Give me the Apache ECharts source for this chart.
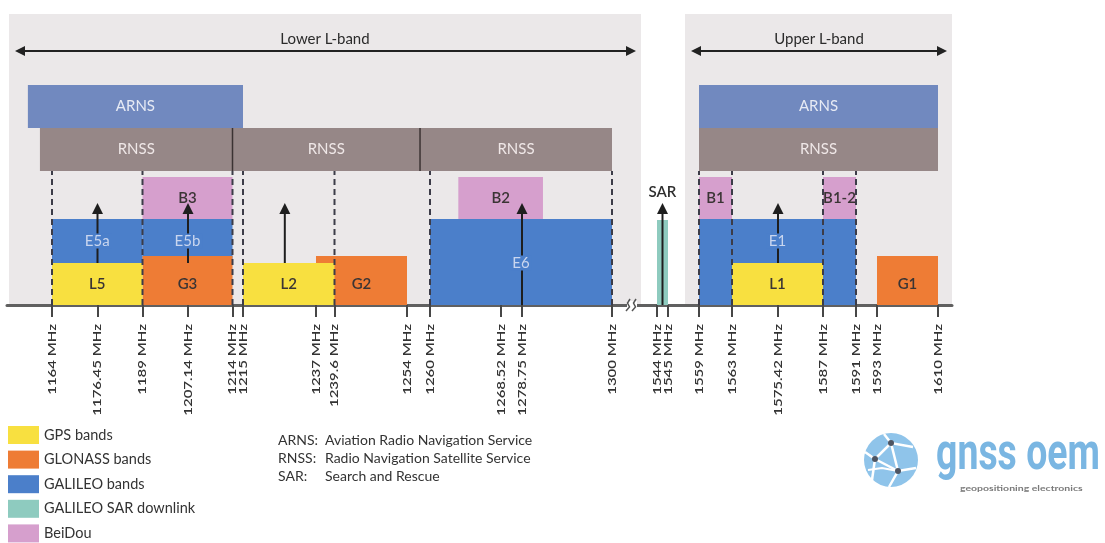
<!DOCTYPE html>
<html>
<head>
<meta charset="utf-8">
<script src="https://cdn.jsdelivr.net/npm/echarts@6.0.0/dist/echarts.min.js"></script>
<style>
html,body{margin:0;padding:0;background:#ffffff;}
#chart{width:1105px;height:543px;}
</style>
</head>
<body>
<div id="chart"></div>
<script>
// ================= DATA =================
const tickFreqs = [1164, 1176.45, 1189, 1207.14, 1214, 1215, 1237, 1239.6, 1254, 1260, 1268.52, 1278.75, 1300,
                   1544, 1545, 1559, 1563, 1575.42, 1587, 1591, 1593, 1610];

const serviceNames = ['ARNS', 'RNSS', 'RNSS', 'RNSS', 'ARNS', 'RNSS'];
const serviceStart = [1157.4, 1160.7, 1214, 1257.4, 1559, 1559];
const serviceEnd   = [1215, 1214, 1257.4, 1300, 1610, 1610];

const systemNames = ['GPS bands', 'GLONASS bands', 'GALILEO bands', 'GALILEO SAR downlink', 'BeiDou'];

const bandNames  = ['L5', 'L2', 'L1', 'G3', 'G2', 'G1', 'E5a', 'E5b', 'E6', 'E1', 'SAR', 'B3', 'B2', 'B1', 'B1-2'];
const bandSystem = [0, 0, 0, 1, 1, 1, 2, 2, 2, 2, 3, 4, 4, 4, 4];
const bandStart  = [1164, 1215, 1563, 1189, 1237, 1593, 1164, 1189, 1260, 1559, 1544, 1189, 1263.4, 1559, 1587];
const bandEnd    = [1189, 1239.6, 1587, 1214, 1254, 1610, 1189, 1214, 1300, 1591, 1545, 1214, 1283.7, 1563, 1591];
const bandRow    = ['base', 'base', 'base', 'glo', 'glo', 'glo', 'mid', 'mid', 'full', 'full', 'sar', 'top', 'top', 'top', 'top'];
const bandLabelRow = ['base', 'base', 'base', 'base', 'base', 'base', 'mid', 'mid', 'full', 'mid', 'note', 'top', 'top', 'top', 'top'];

const carrierFreqs = [1176.45, 1207.14, 1227.6, 1278.75, 1544.5, 1575.42];
const carrierFrom  = ['base', 'base', 'base', 'axis', 'axis', 'base'];

const edgeFreqs = [1164, 1189, 1214, 1215, 1239.6, 1260, 1300, 1559, 1563, 1587, 1591];

const regionNames = ['Lower L-band', 'Upper L-band'];

const abbrevs = ['ARNS:', 'RNSS:', 'SAR:'];
const abbrevMeanings = ['Aviation Radio Navigation Service', 'Radio Navigation Satellite Service', 'Search and Rescue'];

// ================= LAYOUT / STYLE =================
// The diagram is not to scale: each labelled frequency has a slot on the schematic axis.
const SCHEMATIC_X = [52, 97.5, 142.5, 188, 232.5, 243, 316, 334.5, 407, 430, 501, 522, 612,
                     657, 668, 699, 732, 778, 823, 856, 877, 938];
function pos(f) {
  const F = tickFreqs, X = SCHEMATIC_X, n = F.length;
  let k = 0;
  if (f <= F[0]) k = 0;
  else if (f >= F[n - 1]) k = n - 2;
  else { while (k < n - 2 && f > F[k + 1]) k++; }
  return X[k] + (f - F[k]) * (X[k + 1] - X[k]) / (F[k + 1] - F[k]);
}
const ROW = { base: [0, 42], glo: [0, 49], mid: [42, 86], full: [0, 86], sar: [0, 85], top: [86, 128],
              RNSS: [134, 177], ARNS: [177, 220] };
const LABEL_Y = { base: 21, mid: 64, full: 42, top: 107, note: 113 };
const FROM_Y = { base: 42, axis: 0 };
const ARROW_TIP = 102, ARROW_HEAD = 11, EDGE_TOP = 134;

const SYSTEM_COLORS = ['#f8e040', '#ee7c35', '#4b7fca', '#8ecbbf', '#d69fcd'];
const SYSTEM_Z = [4, 3, 2, 4, 4];
const LABEL_FILL = ['#3a3434', '#3a3434', '#c9d6ef', '#2e2e2e', '#3a3434'];
const SERVICE_COLORS = { ARNS: '#7189bf', RNSS: '#968787' };
const SERVICE_TEXT = { ARNS: '#e6eaf4', RNSS: '#efe7e7' };
const PANEL = '#ebe8e9';
const FONT = 'Lato, "Liberation Sans", sans-serif';

const tickPositions = tickFreqs.map(pos);

// ================= RENDERERS =================
function rectItem(params, api) {
  const a = api.coord([api.value(0), api.value(3)]);
  const b = api.coord([api.value(1), api.value(2)]);
  return { type: 'rect', shape: { x: a[0], y: a[1], width: b[0] - a[0], height: b[1] - a[1] },
           style: { fill: api.visual('color') } };
}

function serviceItem(params, api) {
  const i = api.value(4);
  const name = serviceNames[i];
  const a = api.coord([api.value(0), api.value(3)]);
  const b = api.coord([api.value(1), api.value(2)]);
  const children = [
    { type: 'rect', shape: { x: a[0], y: a[1], width: b[0] - a[0], height: b[1] - a[1] },
      style: { fill: SERVICE_COLORS[name] } },
    { type: 'text', x: (a[0] + b[0]) / 2, y: (a[1] + b[1]) / 2,
      style: { text: name, font: '15px ' + FONT, fill: SERVICE_TEXT[name], align: 'center', verticalAlign: 'middle' } }
  ];
  const joined = serviceNames.some((m, j) => j !== i && m === name && serviceEnd[j] === serviceStart[i]);
  if (joined) {
    children.push({ type: 'line', shape: { x1: a[0], y1: a[1], x2: a[0], y2: b[1] },
                    style: { stroke: '#3b3333', lineWidth: 1.5 } });
  }
  return { type: 'group', children };
}

function edgeItem(params, api) {
  const a = api.coord([api.value(0), api.value(1)]);
  const b = api.coord([api.value(0), api.value(2)]);
  return { type: 'line', shape: { x1: a[0], y1: a[1], x2: b[0], y2: b[1] },
           style: { stroke: '#3c3c48', lineWidth: 2, lineDash: [6, 4] } };
}

function arrowItem(params, api) {
  const p0 = api.coord([api.value(0), api.value(1)]);
  const pt = api.coord([api.value(0), api.value(2)]);
  return { type: 'group', children: [
    { type: 'line', shape: { x1: p0[0], y1: p0[1], x2: pt[0], y2: pt[1] + ARROW_HEAD - 1 },
      style: { stroke: '#1e1e1e', lineWidth: 2 } },
    { type: 'polygon', shape: { points: [[pt[0], pt[1]], [pt[0] - 5.5, pt[1] + ARROW_HEAD], [pt[0] + 5.5, pt[1] + ARROW_HEAD]] },
      style: { fill: '#1e1e1e' } }
  ] };
}

function labelItem(params, api) {
  const i = api.value(2);
  const s = bandSystem[i];
  const p = api.coord([api.value(0), api.value(1)]);
  return { type: 'text', x: p[0], y: p[1],
           style: { text: bandNames[i], font: (s === 2 ? '' : '600 ') + '15px ' + FONT, fill: LABEL_FILL[s], align: 'center', verticalAlign: 'middle',
                    backgroundColor: s === 2 ? SYSTEM_COLORS[2] : 'transparent', padding: [0, 2] } };
}

// frequency tick labels, vertical text reading upwards, ending just below the axis
function tickLabelItem(params, api) {
  const i = api.value(2);
  const p = api.coord([api.value(0), api.value(1)]);
  return { type: 'text', x: p[0], y: p[1] + 19, rotation: Math.PI / 2, scaleY: 0.8,
           style: { text: tickFreqs[i] + ' MHz', font: '600 15px ' + FONT, fill: '#333333', align: 'right', verticalAlign: 'middle' } };
}

// ================= SERIES =================
const series = [];
series.push({
  type: 'custom', name: 'services', z: 1, silent: true,
  encode: { x: [0, 1], y: [2, 3] },
  data: serviceNames.map((n, i) => [pos(serviceStart[i]), pos(serviceEnd[i]), ROW[n][0], ROW[n][1], i]),
  renderItem: serviceItem
});
systemNames.forEach((name, s) => {
  const idx = bandNames.map((_, i) => i).filter(i => bandSystem[i] === s);
  series.push({
    type: 'custom', name, z: SYSTEM_Z[s], silent: true,
    itemStyle: { color: SYSTEM_COLORS[s] },
    encode: { x: [0, 1], y: [2, 3] },
    data: idx.map(i => [pos(bandStart[i]), pos(bandEnd[i]), ROW[bandRow[i]][0], ROW[bandRow[i]][1]]),
    renderItem: rectItem
  });
});
series.push({
  type: 'custom', name: 'edges', z: 5, silent: true,
  encode: { x: 0, y: [1, 2] },
  data: edgeFreqs.map(f => [pos(f), 0, EDGE_TOP]),
  renderItem: edgeItem
});
series.push({
  type: 'custom', name: 'carriers', z: 6, silent: true,
  encode: { x: 0, y: [1, 2] },
  data: carrierFreqs.map((f, i) => [pos(f), FROM_Y[carrierFrom[i]], ARROW_TIP]),
  renderItem: arrowItem
});
series.push({
  type: 'custom', name: 'labels', z: 7, silent: true,
  encode: { x: 0, y: 1 },
  data: bandNames.map((n, i) => [(pos(bandStart[i]) + pos(bandEnd[i])) / 2, LABEL_Y[bandLabelRow[i]], i]),
  renderItem: labelItem
});
series.push({
  type: 'custom', name: 'tickLabels', z: 7, silent: true, clip: false,
  encode: { x: 0, y: 1 },
  data: tickFreqs.map((f, i) => [pos(f), 0, i]),
  renderItem: tickLabelItem
});

// ================= DECORATION =================
function headerArrow(x1, x2, y) {
  return [
    { type: 'line', z: 1, shape: { x1: x1 + 6, y1: y, x2: x2 - 6, y2: y }, style: { stroke: '#222', lineWidth: 2 } },
    { type: 'polygon', z: 1, shape: { points: [[x1, y], [x1 + 10, y - 5], [x1 + 10, y + 5]] }, style: { fill: '#222' } },
    { type: 'polygon', z: 1, shape: { points: [[x2, y], [x2 - 10, y - 5], [x2 - 10, y + 5]] }, style: { fill: '#222' } }
  ];
}

const graphic = [
  { type: 'rect', z: -10, shape: { x: 9, y: 14, width: 632, height: 291 }, style: { fill: PANEL } },
  { type: 'rect', z: -10, shape: { x: 685, y: 14, width: 267, height: 291 }, style: { fill: PANEL } },
  ...headerArrow(15, 636, 51),
  ...headerArrow(691, 947, 51),
  { type: 'text', z: 1, x: 325, y: 39, style: { text: regionNames[0], font: '15px ' + FONT, fill: '#2b2b2b', align: 'center', verticalAlign: 'middle' } },
  { type: 'text', z: 1, x: 819, y: 39, style: { text: regionNames[1], font: '15px ' + FONT, fill: '#2b2b2b', align: 'center', verticalAlign: 'middle' } },
  // axis break mark
  { type: 'rect', z: 20, shape: { x: 627, y: 301, width: 10, height: 8 }, style: { fill: '#ffffff' } },
  { type: 'polyline', z: 21, shape: { points: [[626, 311], [629.5, 307], [627.5, 303], [630, 299]] }, style: { stroke: '#555', lineWidth: 1.5, fill: null } },
  { type: 'polyline', z: 21, shape: { points: [[632, 311], [635.5, 307], [633.5, 303], [636, 299]] }, style: { stroke: '#555', lineWidth: 1.5, fill: null } }
];

abbrevs.forEach((a, i) => {
  graphic.push({ type: 'text', x: 278, y: 440 + i * 18, style: { text: a, font: '14px ' + FONT, fill: '#333333', verticalAlign: 'middle' } });
  graphic.push({ type: 'text', x: 325, y: 440 + i * 18, style: { text: abbrevMeanings[i], font: '14px ' + FONT, fill: '#333333', verticalAlign: 'middle' } });
});

// logo
graphic.push({ type: 'group', children: [
  { type: 'circle', shape: { cx: 891, cy: 460, r: 27 }, style: { fill: '#8fc4ea' } },
  { type: 'polyline', shape: { points: [[865, 452], [875, 459], [891, 443], [913, 447]] }, style: { stroke: '#ffffff', lineWidth: 2.5, fill: null } },
  { type: 'polyline', shape: { points: [[875, 459], [898, 471], [916, 468]] }, style: { stroke: '#ffffff', lineWidth: 2.5, fill: null } },
  { type: 'polyline', shape: { points: [[891, 443], [898, 471], [889, 487]] }, style: { stroke: '#ffffff', lineWidth: 2.5, fill: null } },
  { type: 'polyline', shape: { points: [[875, 459], [872, 480]] }, style: { stroke: '#ffffff', lineWidth: 2.5, fill: null } },
  { type: 'polyline', shape: { points: [[884, 434], [891, 443]] }, style: { stroke: '#ffffff', lineWidth: 2.5, fill: null } },
  { type: 'polyline', shape: { points: [[868, 470], [882, 468], [898, 471]] }, style: { stroke: '#ffffff', lineWidth: 2, fill: null } },
  { type: 'circle', shape: { cx: 891, cy: 443, r: 3 }, style: { fill: '#4e5562' } },
  { type: 'circle', shape: { cx: 875, cy: 459, r: 3 }, style: { fill: '#4e5562' } },
  { type: 'circle', shape: { cx: 898, cy: 471, r: 3 }, style: { fill: '#4e5562' } },
  { type: 'text', x: 936, y: 456, scaleX: 0.72, style: { text: 'gnss oem', font: 'bold 52px Roboto, sans-serif', fill: '#7ab6e2', verticalAlign: 'middle' } },
  { type: 'text', x: 960, y: 489, scaleX: 1.5, style: { text: 'geopositioning electronics', font: 'bold 7px ' + FONT, fill: '#7a7a7a', verticalAlign: 'middle' } }
] });

// ================= CHART =================
const chart = echarts.init(document.getElementById('chart'), null, { renderer: 'canvas' });
chart.setOption({
  animation: false,
  backgroundColor: '#ffffff',
  grid: { left: 7, right: 153, top: 14, bottom: 238, containLabel: false },
  xAxis: {
    type: 'value', min: 7, max: 952,
    splitLine: { show: false },
    axisLine: { show: true, onZero: false, lineStyle: { color: '#606060', width: 3 } },
    axisTick: { show: true, customValues: tickPositions, length: 12, lineStyle: { color: '#474747', width: 2 } },
    axisLabel: { show: false }
  },
  yAxis: { type: 'value', min: 0, max: 291, show: false },
  legend: {
    data: systemNames, orient: 'vertical', left: 8, top: 426, height: 140, padding: 0,
    icon: 'rect', itemWidth: 31, itemHeight: 18, itemGap: 6.6, selectedMode: false,
    textStyle: { fontFamily: FONT, fontSize: 14.5, color: '#333333' }
  },
  graphic: graphic,
  series: series
});
</script>
</body>
</html>
